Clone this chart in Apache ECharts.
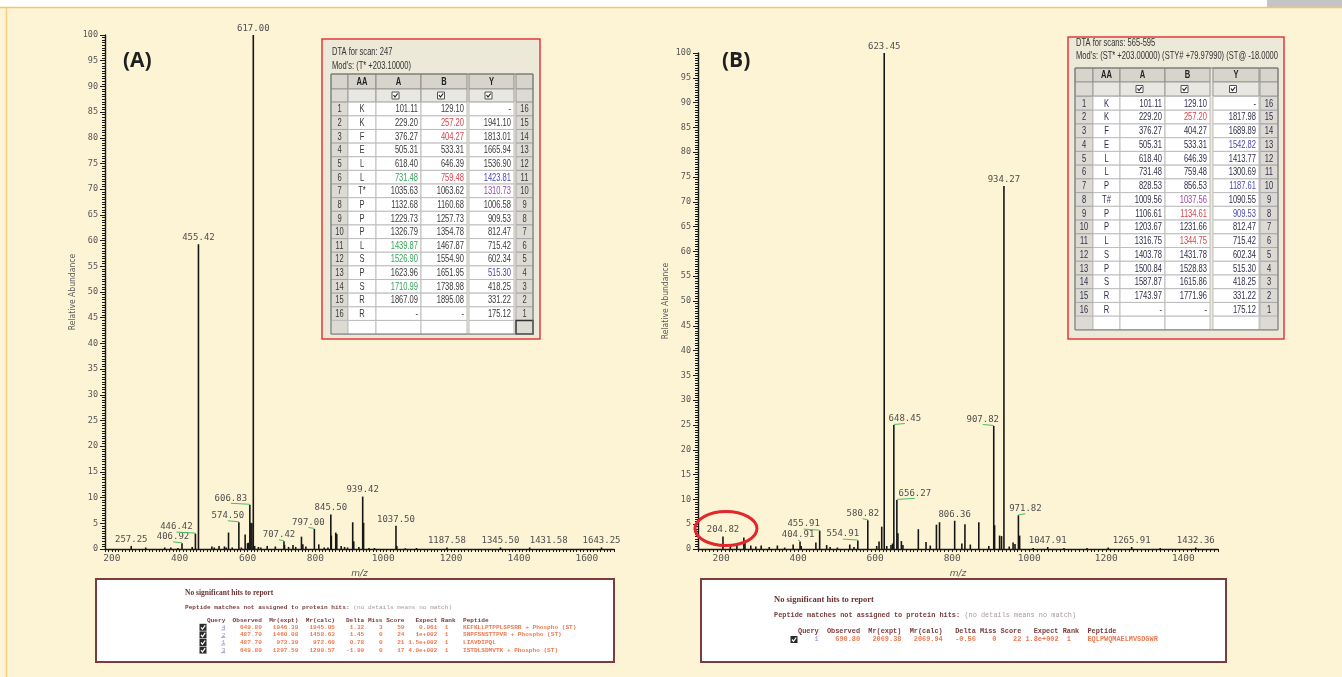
<!DOCTYPE html>
<html>
<head>
<meta charset="utf-8">
<script src="https://cdn.jsdelivr.net/npm/echarts@6/dist/echarts.min.js"></script>
<style>
html, body { margin: 0; padding: 0; background: #fdf3d5; }
#chart { width: 1342px; height: 677px; }
</style>
</head>
<body>
<div id="chart"></div>
<script>
// ---- spectrum (A): DTA scan 247 ----
var mzA = [257.25, 300, 356, 374, 395, 406.92, 437, 446.42, 455.42, 495, 502, 516, 532, 537, 544, 555,
  574.50, 582, 593, 600, 602, 606.83, 610, 613, 617.00, 621, 632, 639, 658, 682, 707.42, 709, 721, 734,
  742, 759, 763, 772, 797.00, 810, 826, 837, 845.50, 847, 860, 863, 876, 886, 895, 910, 913, 928, 939.42,
  942, 958, 974, 1037.50, 1040, 1065, 1098, 1187.58, 1345.50, 1431.58, 1643.25]
var intA = [0.6, 0.3, 0.3, 0.3, 0.2, 1.1, 0.4, 3.0, 59.3, 0.5, 0.3, 0.6, 0.5, 0.3, 3.2, 0.3,
  5.2, 0.3, 2.8, 1.1, 1.2, 8.6, 5.1, 5.0, 100, 0.6, 0.4, 0.3, 0.6, 0.5, 1.5, 0.8, 0.4, 0.8,
  0.4, 2.4, 0.9, 0.5, 3.9, 0.9, 0.3, 0.3, 6.7, 2.6, 3.2, 2.9, 0.6, 0.4, 0.3, 5.2, 1.5, 0.4, 10.2,
  5.1, 0.2, 0.2, 4.5, 0.6, 0.15, 0.2, 0.3, 0.3, 0.3, 0.3]
var labelMzA = [257.25, 406.92, 446.42, 455.42, 574.50, 606.83, 617.00, 707.42, 797.00, 845.50, 939.42,
  1037.50, 1187.58, 1345.50, 1431.58, 1643.25]

// ---- spectrum (B): DTA scans 565-595 ----
var mzB = [204.82, 224, 241, 259, 262, 277, 290, 304, 325, 346, 365, 387, 404.91, 408, 446, 455.91, 474,
  483, 502, 534, 545, 554.91, 580.82, 604, 610, 617, 623.45, 630, 641, 645, 648.45, 656.27, 659, 668, 672,
  712, 732, 743, 759, 767, 806.36, 825, 833, 847, 869, 895, 907.82, 910, 923, 928, 934.27, 948, 958, 963,
  971.82, 975, 1010, 1047.91, 1090, 1150, 1205, 1265.91, 1340, 1432.36]
var intB = [2.5, 0.5, 0.8, 2.3, 1.5, 0.7, 0.5, 0.7, 0.4, 0.7, 0.3, 0.9, 1.5, 0.6, 1.3, 3.7, 0.8,
  0.4, 0.3, 0.9, 0.4, 1.7, 5.8, 0.6, 1.5, 4.5, 100, 0.6, 0.8, 1.1, 25.0, 9.9, 3.2, 1.6, 0.8,
  4.0, 1.4, 0.7, 4.9, 5.4, 5.7, 1.1, 5.0, 0.9, 5.4, 0.6, 24.8, 4.8, 2.7, 2.6, 73.2, 0.5, 1.3, 1.0,
  6.8, 2.7, 0.2, 0.4, 0.2, 0.2, 0.3, 0.4, 0.2, 0.3]
var labelMzB = [204.82, 404.91, 455.91, 554.91, 580.82, 623.45, 648.45, 656.27, 806.36, 907.82, 934.27,
  971.82, 1047.91, 1265.91, 1432.36]

// ---- fragment tables ----
var aaA = ['K', 'K', 'F', 'E', 'L', 'L', 'T*', 'P', 'P', 'P', 'L', 'S', 'P', 'S', 'R', 'R']
var ionA_A = ['101.11', '229.20', '376.27', '505.31', '618.40', '731.48', '1035.63', '1132.68', '1229.73',
  '1326.79', '1439.87', '1526.90', '1623.96', '1710.99', '1867.09', '-']
var ionB_A = ['129.10', '257.20', '404.27', '533.31', '646.39', '759.48', '1063.62', '1160.68', '1257.73',
  '1354.78', '1467.87', '1554.90', '1651.95', '1738.98', '1895.08', '-']
var ionY_A = ['-', '1941.10', '1813.01', '1665.94', '1536.90', '1423.81', '1310.73', '1006.58', '909.53',
  '812.47', '715.42', '602.34', '515.30', '418.25', '331.22', '175.12']

var aaB = ['K', 'K', 'F', 'E', 'L', 'L', 'P', 'T#', 'P', 'P', 'L', 'S', 'P', 'S', 'R', 'R']
var ionA_B = ['101.11', '229.20', '376.27', '505.31', '618.40', '731.48', '828.53', '1009.56', '1106.61',
  '1203.67', '1316.75', '1403.78', '1500.84', '1587.87', '1743.97', '-']
var ionB_B = ['129.10', '257.20', '404.27', '533.31', '646.39', '759.48', '856.53', '1037.56', '1134.61',
  '1231.66', '1344.75', '1431.78', '1528.83', '1615.86', '1771.96', '-']
var ionY_B = ['-', '1817.98', '1689.89', '1542.82', '1413.77', '1300.69', '1187.61', '1090.55', '909.53',
  '812.47', '715.42', '602.34', '515.30', '418.25', '331.22', '175.12']

// ---- search results ----
var hitsA = [
  ['4', '649.80', '1946.38', '1945.05', '1.32', '3', '59', '0.061', '1', 'KEFKLLPTPPLSPSRR + Phospho (ST)'],
  ['2', '487.70', '1460.08', '1458.63', '1.45', '0', '24', '1e+002', '1', 'SNPFSNSTTPVR + Phospho (ST)'],
  ['1', '487.70', '973.39', '972.60', '0.78', '0', '21', '1.5e+002', '1', 'LIAVDIPQL'],
  ['3', '649.80', '1297.59', '1299.57', '-1.99', '0', '17', '4.9e+002', '1', 'ISTDLSDMVTK + Phospho (ST)']
]
var hitsB = [
  ['1', '690.80', '2069.38', '2069.94', '-0.56', '0', '22', '1.8e+002', '1', 'EQLPWQMAELMVSDGWR']
]

// label shifts (px) where the labels were pushed aside, drawn with a green leader
var shiftA = { '406.92': -9, '446.42': -19, '574.50': -11, '606.83': -19, '707.42': -5, '797.00': -6, '1431.58': 19 }
var shiftB = { '404.91': -2, '455.91': -16, '554.91': -15, '580.82': -5, '648.45': 11, '656.27': 18,
  '907.82': -11, '971.82': 7 }

var TINT = { r: '#d8434b', g: '#35a457', b: '#4848b0', p: '#9b44a8' }
var tintA = { A: { 6: 'g', 11: 'g', 12: 'g', 14: 'g' }, B: { 2: 'r', 3: 'r', 6: 'r' }, Y: { 6: 'b', 7: 'p', 13: 'b' } }
var tintB = { A: {}, B: { 2: 'r', 8: 'p', 9: 'r', 11: 'r' }, Y: { 4: 'b', 7: 'b', 9: 'b' } }

var MONO = '"DejaVu Sans Mono", monospace'
var SANS = '"Liberation Sans", Arial, sans-serif'
var NARROW = 0.72 // horizontal squeeze for the table text (narrow grid font)

var chart = echarts.init(document.getElementById('chart'))

function xAxisCfg(gi, min, max) {
  return {
    type: 'value', gridIndex: gi, min: min, max: max, interval: 10,
    name: 'm/z', nameLocation: 'middle', nameGap: 17,
    nameTextStyle: { fontStyle: 'italic', fontSize: 9, color: '#555', fontFamily: 'DejaVu Sans' },
    axisLine: { onZero: false, lineStyle: { color: '#1b1b1b', width: 1.4 } },
    axisTick: { length: 3, lineStyle: { color: '#1b1b1b' } },
    axisLabel: {
      margin: 5, color: '#555', fontSize: 9.5, fontFamily: 'DejaVu Sans Mono',
      formatter: function (v) {
        var r = Math.round(v)
        return (Math.abs(v - r) < 1e-6 && r % 200 === 0) ? String(r) : ''
      }
    },
    splitLine: { show: false }
  }
}

function yAxisCfg(gi) {
  return {
    type: 'value', gridIndex: gi, min: 0, max: 100, interval: 5,
    name: 'Relative Abundance', nameLocation: 'middle', nameGap: 28,
    nameTextStyle: { fontSize: 8.5, color: '#5a5a5a', fontFamily: '"DejaVu Sans Condensed", "DejaVu Sans", sans-serif' },
    axisLine: { lineStyle: { color: '#1b1b1b', width: 1.4 } },
    axisTick: { length: 5, lineStyle: { color: '#1b1b1b' } },
    minorTick: { show: true, splitNumber: 10, length: 3, lineStyle: { color: '#1b1b1b' } },
    axisLabel: { margin: 7, color: '#555', fontSize: 8.5, fontFamily: 'DejaVu Sans Mono' },
    splitLine: { show: false }
  }
}

function peakSeries(gi, mz, inten) {
  return {
    type: 'custom', xAxisIndex: gi, yAxisIndex: gi, silent: true,
    data: mz.map(function (m, i) { return [m, inten[i]] }),
    encode: { x: 0, y: 1 },
    renderItem: function (params, api) {
      var p0 = api.coord([api.value(0), 0])
      var p1 = api.coord([api.value(0), api.value(1)])
      return {
        type: 'line',
        shape: { x1: p0[0], y1: p0[1], x2: p1[0], y2: p1[1] },
        style: { stroke: '#161616', lineWidth: 1.6 }
      }
    }
  }
}

function labelSeries(gi, mz, inten, labels, shift) {
  return {
    type: 'custom', xAxisIndex: gi, yAxisIndex: gi, silent: true, clip: false, z: 5,
    data: labels.map(function (m) { return [m, inten[mz.indexOf(m)]] }),
    encode: { x: 0, y: 1 },
    renderItem: function (params, api) {
      var m = api.value(0)
      var p = api.coord([m, api.value(1)])
      var dx = shift[m.toFixed(2)] || 0
      var kids = []
      // leader only for peaks that stand clear of the baseline
      if (dx && api.value(1) > 0.5) {
        kids.push({
          type: 'line',
          shape: { x1: p[0] + dx, y1: p[1] - 1.5, x2: p[0], y2: p[1] - 0.5 },
          style: { stroke: '#45c062', lineWidth: 1 }
        })
      }
      kids.push({
        type: 'text', x: p[0] + dx, y: p[1] - 2,
        style: {
          text: m.toFixed(2), align: 'center', verticalAlign: 'bottom',
          textAlign: 'center', textVerticalAlign: 'bottom',
          fill: '#4e4e4e', font: '9px ' + MONO
        }
      })
      return { type: 'group', children: kids }
    }
  }
}

// ---------- graphic helpers ----------
function rectEl(x, y, w, h, fill, stroke, lw, z) {
  return {
    type: 'rect', z: z || 50, silent: true,
    shape: { x: x, y: y, width: w, height: h },
    style: { fill: fill, stroke: stroke || null, lineWidth: lw || 1 }
  }
}
function textEl(x, y, s, align, color, font, extra, sx) {
  var st = {
    text: s, align: align, verticalAlign: 'middle', textAlign: align, textVerticalAlign: 'middle',
    fill: color, font: font
  }
  if (extra) for (var k in extra) st[k] = extra[k]
  var el = { type: 'text', z: 51, silent: true, x: x, y: y, style: st }
  if (sx) el.scaleX = sx
  return el
}
function lineEl(x1, y1, x2, y2, color, lw, z) {
  return {
    type: 'line', z: z || 52, silent: true,
    shape: { x1: x1, y1: y1, x2: x2, y2: y2 }, style: { stroke: color, lineWidth: lw || 1 }
  }
}
function checkBox(els, cx, cy, dark) {
  if (dark) {
    els.push(rectEl(cx - 3.5, cy - 3.5, 7, 7, '#2a2a2a', null, 1, 53))
    els.push({ type: 'polyline', z: 54, silent: true, shape: { points: [[cx - 2, cy], [cx - 0.5, cy + 1.8], [cx + 2.2, cy - 2]] },
      style: { stroke: '#fff', lineWidth: 1.2, fill: null } })
  } else {
    els.push(rectEl(cx - 3.5, cy - 3.5, 7, 7, '#fff', '#555', 1, 53))
    els.push({ type: 'polyline', z: 54, silent: true, shape: { points: [[cx - 2, cy - 0.5], [cx - 0.5, cy + 1.6], [cx + 2.2, cy - 2]] },
      style: { stroke: '#222', lineWidth: 1.2, fill: null } })
  }
}

function tableGraphic(t) {
  var els = []
  var font = '10.5px ' + SANS
  var bold = 'bold ' + font
  var b = t.box
  var c = t.cols
  els.push(rectEl(b[0], b[1], b[2] - b[0], b[3] - b[1], '#ece9d8', '#e23a3a', 1.5, 49))
  els.push(textEl(t.titleX, t.titleY[0], t.title1, 'left', '#333', font, null, NARROW))
  els.push(textEl(t.titleX, t.titleY[1], t.title2, 'left', '#333', font,
    { width: (b[2] - t.titleX - 2) / NARROW, overflow: 'truncate', ellipsis: '' }, NARROW))

  var heads = ['', 'AA', 'A', 'B', 'Y', '']
  var k, i
  for (k = 0; k < 6; k++) {
    var w = c[k][1] - c[k][0]
    var mid = (c[k][0] + c[k][1]) / 2
    els.push(rectEl(c[k][0], t.headTop, w, t.headH, '#d7d4cb', '#8c8c8c'))
    if (heads[k]) els.push(textEl(mid, t.headTop + t.headH / 2 + 0.5, heads[k], 'center', '#222', bold, null, NARROW))
    var cy = t.headTop + t.headH
    els.push(rectEl(c[k][0], cy, w, t.chkH, k === 0 || k === 5 ? '#dcdad3' : '#e9e7e1', '#9a9a9a'))
    if (k >= 2 && k <= 4) checkBox(els, mid - 3, cy + t.chkH / 2, false)
  }

  var cols = [t.a, t.bb, t.y]
  var tints = [t.tint.A, t.tint.B, t.tint.Y]
  for (i = 0; i < 16; i++) {
    var y = t.rowTop + i * t.rowH
    var ym = y + t.rowH / 2 + 0.5
    els.push(rectEl(c[0][0], y, c[0][1] - c[0][0], t.rowH, '#dcdad3', '#a8a8a8'))
    els.push(textEl((c[0][0] + c[0][1]) / 2, ym, String(i + 1), 'center', t.ink, font, null, NARROW))
    els.push(rectEl(c[1][0], y, c[1][1] - c[1][0], t.rowH, '#ffffff', '#bdbdbd'))
    els.push(textEl((c[1][0] + c[1][1]) / 2, ym, t.aa[i], 'center', t.ink, font, null, NARROW))
    for (k = 0; k < 3; k++) {
      var cc = c[k + 2]
      var tint = tints[k][i + 1]
      els.push(rectEl(cc[0], y, cc[1] - cc[0], t.rowH, '#ffffff', '#bdbdbd'))
      els.push(textEl(cc[1] - 3, ym, cols[k][i], 'right', tint ? TINT[tint] : t.ink, font, null, NARROW))
    }
    els.push(rectEl(c[5][0], y, c[5][1] - c[5][0], t.rowH, '#dcdad3', '#a8a8a8'))
    els.push(textEl((c[5][0] + c[5][1]) / 2, ym, String(16 - i), 'center', t.ink, font, null, NARROW))
  }
  var yb = t.rowTop + 16 * t.rowH
  for (k = 0; k < 6; k++) {
    var gray = k === 0 || k === 5
    els.push(rectEl(c[k][0], yb, c[k][1] - c[k][0], t.rowH, gray ? '#dcdad3' : '#ffffff',
      k === 5 && t.darkCorner ? '#333' : '#bdbdbd', k === 5 && t.darkCorner ? 1.5 : 1))
  }
  els.push(rectEl(c[0][0], t.headTop, c[5][1] - c[0][0], yb + t.rowH - t.headTop, null, '#777', 1, 52))
  return els
}

function pad(s, n) {
  s = String(s)
  while (s.length < n) s = ' ' + s
  return s
}

function hitsGraphic(h) {
  var els = []
  var b = h.box
  var fs = h.cw / 0.6
  var mono = fs.toFixed(2) + 'px "Liberation Mono", "DejaVu Sans Mono", monospace'
  els.push(rectEl(b[0], b[1], b[2] - b[0], b[3] - b[1], '#ffffff', '#7a3c3c', 2, 40))
  els.push(textEl(h.textX, h.ys[0], 'No significant hits to report', 'left', '#6b3434',
    'bold ' + h.titleSize + 'px "Liberation Serif", serif'))
  var lead = 'Peptide matches not assigned to protein hits: '
  els.push(textEl(h.textX, h.ys[1], lead, 'left', '#7a3a3a', 'bold ' + mono))
  els.push(textEl(h.textX + lead.length * h.cw, h.ys[1], '(no details means no match)', 'left', '#a89a9a', mono))
  var head = 'Query  Observed  Mr(expt)  Mr(calc)   Delta Miss Score   Expect Rank  Peptide'
  els.push(textEl(h.tableX, h.ys[2], head, 'left', '#7a3a3a', 'bold ' + mono))
  h.rows.forEach(function (r, i) {
    var y = h.ys[3] + i * h.rowGap
    checkBox(els, h.tableX - 4, y, true)
    els.push(textEl(h.tableX + 5 * h.cw, y, r[0], 'right', '#8c8cd2', mono))
    if (h.underline) els.push(lineEl(h.tableX + 4 * h.cw - 0.5, y + 2.5, h.tableX + 5 * h.cw, y + 2.5, '#8c8cd2', 0.8))
    var s = pad(r[1], 10) + pad(r[2], 10) + pad(r[3], 10) + pad(r[4], 8) + pad(r[5], 5) + pad(r[6], 6) +
      pad(r[7], 9) + pad(r[8], 3) + '    ' + r[9]
    els.push(textEl(h.tableX + 5 * h.cw, y, s, 'left', '#ec7a52', 'bold ' + mono))
  })
  return els
}

var option = {
  backgroundColor: '#fdf3d5',
  animation: false,
  grid: [
    { left: 105, top: 35, width: 509, height: 514 },
    { left: 698, top: 53, width: 520, height: 496 }
  ],
  xAxis: [xAxisCfg(0, 180, 1680), xAxisCfg(1, 140, 1490)],
  yAxis: [yAxisCfg(0), yAxisCfg(1)],
  series: [
    peakSeries(0, mzA, intA),
    labelSeries(0, mzA, intA, labelMzA, shiftA),
    peakSeries(1, mzB, intB),
    labelSeries(1, mzB, intB, labelMzB, shiftB)
  ]
}
chart.setOption(option)

// ---------- overlays ----------
var g = []
g.push(rectEl(0, 0, 1342, 7, '#ffffff', null, 1, 30))
g.push(rectEl(1267, 0, 75, 7, '#c4c4c4', null, 1, 31))
g.push(lineEl(0, 7.5, 1342, 7.5, '#f5c56c', 1.5, 32))
g.push(lineEl(6.5, 8, 6.5, 677, '#f7cf82', 1.5, 32))

g.push(textEl(123, 61, '(A)', 'left', '#1f1f1f', 'bold 21px "Open Sans", sans-serif'))
g.push(textEl(722, 61, '(B)', 'left', '#1f1f1f', 'bold 21px "Open Sans", sans-serif'))

g = g.concat(tableGraphic({
  box: [322, 39, 540, 339], titleX: 332, titleY: [52, 66],
  title1: 'DTA for scan: 247', title2: "Mod's: (T* +203.10000)",
  cols: [[331, 348], [348, 376], [376, 421], [421, 467], [469, 514], [516, 533]],
  headTop: 74, headH: 15, chkH: 13, rowTop: 102.2, rowH: 13.64,
  aa: aaA, a: ionA_A, bb: ionB_A, y: ionY_A, tint: tintA, ink: '#3a3a3a', darkCorner: true
}))
g = g.concat(tableGraphic({
  box: [1068, 37, 1284, 339], titleX: 1076, titleY: [43, 56],
  title1: 'DTA for scans: 565-595', title2: "Mod's: (ST* +203.00000) (STY# +79.97990) (ST@ -18.00000)",
  cols: [[1075, 1093], [1093, 1120], [1120, 1165], [1165, 1210], [1213, 1259], [1260, 1278]],
  headTop: 68, headH: 14, chkH: 14, rowTop: 96.5, rowH: 13.73,
  aa: aaB, a: ionA_B, bb: ionB_B, y: ionY_B, tint: tintB, ink: '#2e2e4a', darkCorner: false
}))

g = g.concat(hitsGraphic({
  box: [96, 579, 614, 662], textX: 185, tableX: 207, cw: 3.66, titleSize: 7.5,
  ys: [593, 607, 620, 627.3], rowGap: 7.6, rows: hitsA, underline: true
}))
g = g.concat(hitsGraphic({
  box: [701, 579, 1226, 662], textX: 774, tableX: 798, cw: 4.14, titleSize: 8.5,
  ys: [600, 615, 631, 639.5], rowGap: 8.5, rows: hitsB, underline: false
}))

// red ring around the low-mass peak in (B)
var ringMz = labelMzB[0]
var ringAt = chart.convertToPixel({ gridIndex: 1 }, [ringMz, intB[mzB.indexOf(ringMz)]])
g.push({
  type: 'ellipse', z: 60, silent: true,
  shape: { cx: ringAt[0] + 3, cy: ringAt[1] - 8, rx: 31, ry: 17 },
  style: { fill: null, stroke: '#e3262a', lineWidth: 3 }
})

chart.setOption({ graphic: { elements: g } })
</script>
</body>
</html>
